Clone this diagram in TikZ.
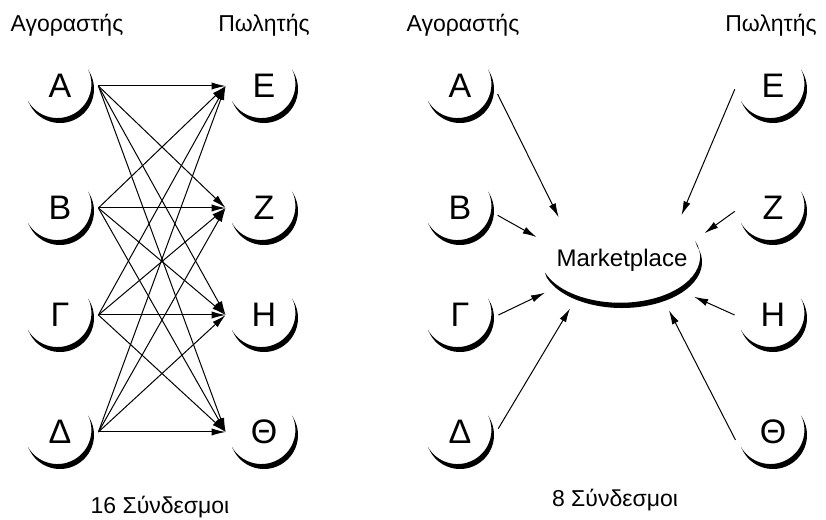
\documentclass[tikz,border=0pt]{standalone}
\usepackage{fontspec}
\setmainfont{Liberation Sans}
\usetikzlibrary{arrows.meta, calc, shapes.geometric}

%%% Definitionen der Styles
\tikzset{
  knoten/.style = {circle, minimum size=38pt, inner sep=0pt, font=\fontsize{17}{17}\selectfont},
  marktplatz/.style = {ellipse, minimum width=88pt, minimum height=58pt, inner sep=0pt, font=\fontsize{12}{13}\selectfont},
  kopf/.style = {font=\fontsize{11.5}{13}\selectfont},
  pfeil/.style = {line width=0.5pt, -{Latex[length=7pt, width=3.6pt]}}
}

%%% Halbmond-Schatten unter einem Knoten
\newcommand{\schatten}[1]{%
  \fill ($(#1)+(0pt,-1.5pt)$) ++(210:17pt) arc[start angle=210, end angle=385, radius=17pt]
    -- ++(117.5:2.8pt) arc[start angle=385, end angle=210, radius=17pt] -- cycle;}

\begin{document}
\begin{tikzpicture}[x=0.5pt, y=0.5pt]

%%% Definition der BoundingBox
\useasboundingbox (0,0) rectangle (826,520);

%%% Ueberschriften und Unterschriften
\node[kopf] (lkaeufer)    at (67,495)  {Αγοραστής};
\node[kopf] (lverkaeufer) at (264,495) {Πωλητής};
\node[kopf] (rkaeufer)    at (463,495) {Αγοραστής};
\node[kopf] (rverkaeufer) at (771,495) {Πωλητής};
\node[kopf] (lsumme) at (160,13) {16 Σύνδεσμοι};
\node[kopf] (rsumme) at (615,20) {8 Σύνδεσμοι};

%%% Linke Seite: Knoten
\node[knoten] (lA) at (60,434) {Α};
\node[knoten] (lB) at (60,312) {Β};
\node[knoten] (lG) at (60,205) {Γ};
\node[knoten] (lD) at (60,88)  {Δ};
\node[knoten] (lE) at (264,434) {Ε};
\node[knoten] (lZ) at (264,312) {Ζ};
\node[knoten] (lH) at (264,205) {Η};
\node[knoten] (lT) at (264,88)  {Θ};

%%% Rechte Seite: Knoten
\node[knoten] (rA) at (460,434) {Α};
\node[knoten] (rB) at (460,312) {Β};
\node[knoten] (rG) at (460,205) {Γ};
\node[knoten] (rD) at (460,88)  {Δ};
\node[knoten] (rE) at (773,434) {Ε};
\node[knoten] (rZ) at (773,312) {Ζ};
\node[knoten] (rH) at (773,205) {Η};
\node[knoten] (rT) at (773,88)  {Θ};
\node[marktplatz] (mp) at (622,260) {Marketplace};

%%% Schatten
\schatten{lA} \schatten{lB} \schatten{lG} \schatten{lD}
\schatten{lE} \schatten{lZ} \schatten{lH} \schatten{lT}
\schatten{rA} \schatten{rB} \schatten{rG} \schatten{rD}
\schatten{rE} \schatten{rZ} \schatten{rH} \schatten{rT}
\fill ($(mp)+(0,-2)$) ++(200:40pt and 23pt) arc[start angle=200, end angle=380, x radius=40pt, y radius=23pt]
  -- ++(110:2.8pt) arc[start angle=380, end angle=200, x radius=40pt, y radius=23pt] -- cycle;

%%% Linke Seite: jeder mit jedem
\draw[pfeil] (lA.east) -- (lE.west);
\draw[pfeil] (lA.east) -- (lZ.west);
\draw[pfeil] (lA.east) -- (lH.west);
\draw[pfeil] (lA.east) -- (lT.west);
\draw[pfeil] (lB.east) -- (lE.west);
\draw[pfeil] (lB.east) -- (lZ.west);
\draw[pfeil] (lB.east) -- (lH.west);
\draw[pfeil] (lB.east) -- (lT.west);
\draw[pfeil] (lG.east) -- (lE.west);
\draw[pfeil] (lG.east) -- (lZ.west);
\draw[pfeil] (lG.east) -- (lH.west);
\draw[pfeil] (lG.east) -- (lT.west);
\draw[pfeil] (lD.east) -- (lE.west);
\draw[pfeil] (lD.east) -- (lZ.west);
\draw[pfeil] (lD.east) -- (lH.west);
\draw[pfeil] (lD.east) -- (lT.west);

%%% Rechte Seite: alle zum Marktplatz
\draw[pfeil] (rA.-12) -- (mp.146);
\draw[pfeil] (rB.-11) -- (mp.165);
\draw[pfeil] (rG.0)   -- (mp.203);
\draw[pfeil] (rD.5)   -- (mp.223);
\draw[pfeil] (rE.185) -- (mp.37);
\draw[pfeil] (rZ.185) -- (mp.18);
\draw[pfeil] (rH.180) -- (mp.333);
\draw[pfeil] (rT.192) -- (mp.313);

\end{tikzpicture}
\end{document}
